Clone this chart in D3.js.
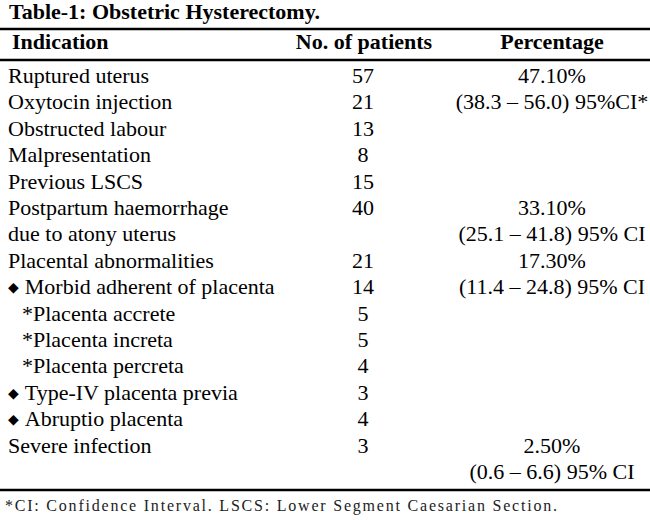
<!DOCTYPE html>
<html>
<head>
<meta charset="utf-8">
<script src="https://cdn.jsdelivr.net/npm/d3@7"></script>
<style>
  body { margin: 0; background: #fff; }
  svg text { font-family: 'Liberation Serif', 'Times New Roman', Times, 'DejaVu Serif', serif; fill: #000; }
</style>
</head>
<body>
<div id="table-chart"></div>
<script>
// table data
const title = "Table-1: Obstetric Hysterectomy.";
const headers = ["Indication", "No. of patients", "Percentage"];
const indications = [
    "Ruptured uterus",
    "Oxytocin injection",
    "Obstructed labour",
    "Malpresentation",
    "Previous LSCS",
    "Postpartum haemorrhage",
    "due to atony uterus",
    "Placental abnormalities",
    "\u25C6 Morbid adherent of placenta",
    "*Placenta accrete",
    "*Placenta increta",
    "*Placenta percreta",
    "\u25C6 Type-IV placenta previa",
    "\u25C6 Abruptio placenta",
    "Severe infection",
    ""
];
const patients = [57, 21, 13, 8, 15, 40, null, 21, 14, 5, 5, 4, 3, 4, 3, null];
const percentages = [
    "47.10%", "(38.3 \u2013 56.0) 95%CI*", "", "", "",
    "33.10%", "(25.1 \u2013 41.8) 95% CI",
    "17.30%", "(11.4 \u2013 24.8) 95% CI",
    "", "", "", "", "",
    "2.50%", "(0.6 \u2013 6.6) 95% CI"
];
const footnote = "*CI: Confidence Interval. LSCS: Lower Segment Caesarian Section.";

const width = 650, height = 520;
const serif = "'Liberation Serif', 'Times New Roman', Times, 'DejaVu Serif', serif";

const svg = d3.select("#table-chart")
    .append("svg")
    .attr("width", width)
    .attr("height", height)
    .attr("font-family", serif);

// row baselines
const y = d3.scaleLinear()
    .domain([0, indications.length - 1])
    .range([83, 479]);

const colNum = 363;
const colPct = 552;

// title
svg.append("text")
    .attr("x", 9)
    .attr("y", 19)
    .attr("font-size", "22px")
    .attr("font-weight", "bold")
    .text(title);

// rules
[29, 60, 490].forEach(ry => {
    svg.append("line")
        .attr("x1", 0).attr("x2", width)
        .attr("y1", ry).attr("y2", ry)
        .attr("stroke", "#000")
        .attr("stroke-width", 2.5);
});

// header row
svg.append("text")
    .attr("x", 12).attr("y", 49)
    .attr("font-size", "22px").attr("font-weight", "bold")
    .text(headers[0]);

svg.append("text")
    .attr("x", colNum + 1).attr("y", 49)
    .attr("text-anchor", "middle")
    .attr("font-size", "22px").attr("font-weight", "bold")
    .text(headers[1]);

svg.append("text")
    .attr("x", colPct).attr("y", 49)
    .attr("text-anchor", "middle")
    .attr("font-size", "22px").attr("font-weight", "bold")
    .text(headers[2]);

// indication column
const ind = svg.append("g").selectAll("text")
    .data(indications)
    .enter()
    .append("text")
    .attr("x", d => d.startsWith("*") ? 22 : 8)
    .attr("y", (d, i) => y(i))
    .attr("font-size", "22px");

ind.each(function (d) {
    const t = d3.select(this);
    if (d.startsWith("\u25C6")) {
        t.append("tspan").attr("font-size", "14px").attr("dy", -2).text("\u25C6");
        t.append("tspan").attr("dy", 2).attr("dx", 6).text(d.slice(2));
    } else {
        t.text(d);
    }
});

// patients column
svg.append("g").selectAll("text")
    .data(patients)
    .enter()
    .append("text")
    .attr("x", colNum)
    .attr("y", (d, i) => y(i))
    .attr("text-anchor", "middle")
    .attr("font-size", "22px")
    .text(d => d == null ? "" : d);

// percentage column
svg.append("g").selectAll("text")
    .data(percentages)
    .enter()
    .append("text")
    .attr("x", colPct)
    .attr("y", (d, i) => y(i))
    .attr("text-anchor", "middle")
    .attr("font-size", "22px")
    .text(d => d);

// footnote
svg.append("text")
    .attr("x", 5)
    .attr("y", 511)
    .attr("font-size", "16px")
    .attr("textLength", 552)
    .attr("lengthAdjust", "spacing")
    .style("fill", "#222")
    .text(footnote);
</script>
</body>
</html>
